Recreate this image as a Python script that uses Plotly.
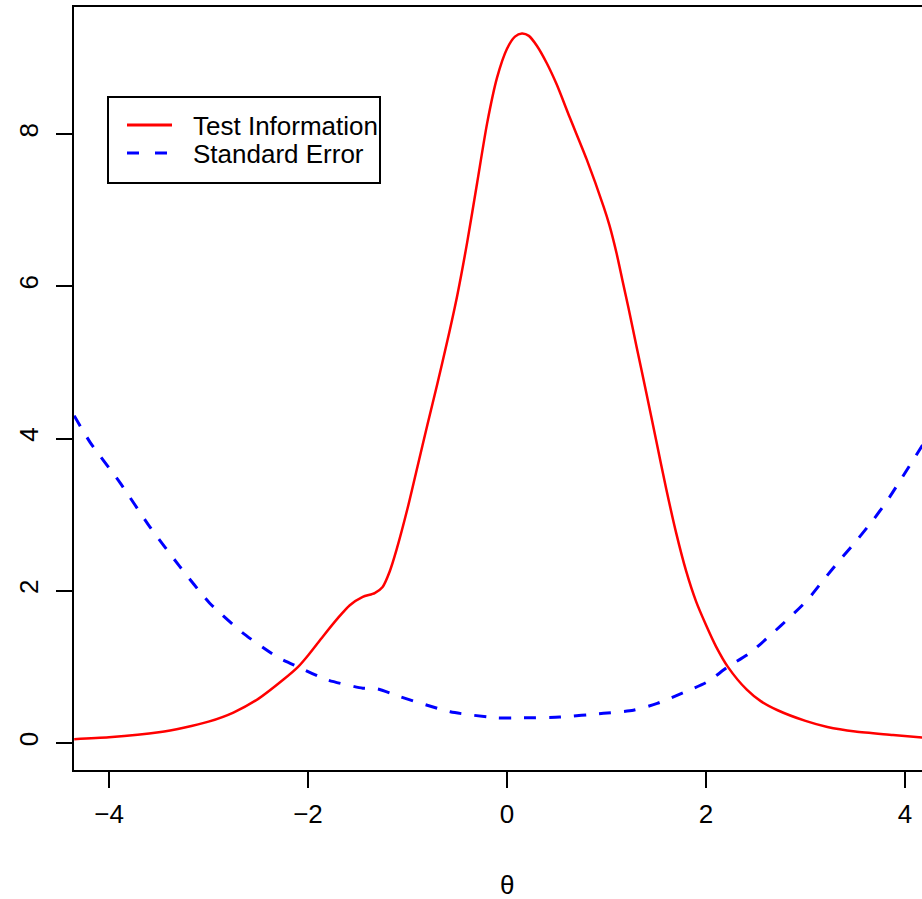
import plotly.graph_objects as go

# Test information curve (theta, information)
theta_info = [-4.35, -4.0, -3.5, -3.25, -3.0, -2.75, -2.5, -2.25, -2.1, -2.0, -1.85, -1.7,
              -1.58, -1.45, -1.33, -1.25, -1.18, -1.11, -1.0, -0.9, -0.8, -0.7, -0.6,
              -0.5, -0.4, -0.3, -0.2, -0.1, 0.0, 0.08, 0.15, 0.22, 0.30, 0.40, 0.50,
              0.63, 0.80, 0.97, 1.03, 1.10, 1.16, 1.22, 1.30, 1.40, 1.50, 1.60, 1.70,
              1.80, 1.90, 2.00, 2.10, 2.22, 2.41, 2.55, 2.72, 3.0, 3.22, 3.5, 3.88, 4.18]
info = [0.05, 0.075, 0.14, 0.20, 0.28, 0.40, 0.58, 0.83, 1.00, 1.15, 1.40, 1.64,
        1.81, 1.92, 1.97, 2.05, 2.25, 2.54, 3.08, 3.63, 4.18, 4.72, 5.28,
        5.88, 6.58, 7.36, 8.14, 8.74, 9.12, 9.28, 9.32, 9.29, 9.16, 8.93, 8.65,
        8.22, 7.67, 7.05, 6.80, 6.44, 6.08, 5.72, 5.22, 4.60, 3.97, 3.34, 2.76,
        2.26, 1.86, 1.55, 1.27, 1.00, 0.70, 0.55, 0.43, 0.29, 0.21, 0.15, 0.105, 0.07]

# Standard error curve (theta, SE)
theta_se = [-4.35, -4.19, -3.89, -3.59, -3.29, -2.99, -2.66, -2.31, -2.10, -1.81, -1.45,
            -1.30, -1.08, -0.57, -0.10, 0.15, 0.53, 0.97, 1.27, 1.51, 1.77, 2.01, 2.22,
            2.44, 2.65, 2.85, 3.02, 3.18, 3.35, 3.52, 3.68, 3.83, 4.18]
se = [4.30, 3.95, 3.42, 2.84, 2.32, 1.84, 1.45, 1.13, 1.00, 0.83, 0.72,
      0.71, 0.61, 0.41, 0.33, 0.33, 0.34, 0.39, 0.43, 0.52, 0.66, 0.80, 1.00,
      1.18, 1.42, 1.66, 1.88, 2.14, 2.41, 2.67, 2.93, 3.20, 3.92]

series_names = ["Test Information", "Standard Error"]
series_colors = ["#ff0000", "#0000ff"]
x_title = "\u03b8"

x_ticks = [-4, -2, 0, 2, 4]
x_tick_text = ["\u22124", "\u22122", "0", "2", "4"]
y_ticks = [0, 2, 4, 6, 8]

FONT = "Liberation Sans, Arial, sans-serif"
W, H = 922, 899
ML, MR, MT, MB = 74, 0, 7, 129
PW, PH = W - ML - MR, H - MT - MB


def px_x(p):
    return (p - ML) / PW


def px_y(p):
    return (H - MB - p) / PH


fig = go.Figure()
fig.add_trace(go.Scatter(x=theta_info, y=info, mode="lines", name=series_names[0],
                         showlegend=False,
                         line=dict(color=series_colors[0], width=2.5, shape="spline", smoothing=0.7)))
fig.add_trace(go.Scatter(x=theta_se, y=se, mode="lines", name=series_names[1],
                         showlegend=False,
                         line=dict(color=series_colors[1], width=3, dash="12px,13px",
                                   shape="spline", smoothing=0.6)))

# Legend drawn in R style: box, line samples, labels
shapes = [
    dict(type="rect", xref="paper", yref="paper",
         x0=px_x(108), x1=px_x(380), y0=px_y(183), y1=px_y(97),
         line=dict(color="black", width=2), fillcolor="white", layer="above"),
    dict(type="line", xref="paper", yref="paper",
         x0=px_x(127), x1=px_x(172), y0=px_y(125), y1=px_y(125),
         line=dict(color=series_colors[0], width=3), layer="above"),
    dict(type="line", xref="paper", yref="paper",
         x0=px_x(127), x1=px_x(172), y0=px_y(153), y1=px_y(153),
         line=dict(color=series_colors[1], width=3, dash="12px,16px"), layer="above"),
]
annotations = [
    dict(text=series_names[0], xref="paper", yref="paper", x=px_x(191), y=px_y(126),
         xanchor="left", yanchor="middle", showarrow=False,
         font=dict(family=FONT, size=26, color="black")),
    dict(text=series_names[1], xref="paper", yref="paper", x=px_x(191), y=px_y(154),
         xanchor="left", yanchor="middle", showarrow=False,
         font=dict(family=FONT, size=26, color="black")),
    # x-axis title (centred on the full R plot region, which extends past the crop)
    dict(text=x_title, xref="paper", yref="paper", x=px_x(507), y=px_y(885),
         xanchor="center", yanchor="middle", showarrow=False,
         font=dict(family=FONT, size=26, color="black")),
]

fig.update_layout(
    width=W, height=H,
    margin=dict(l=ML, r=MR, t=MT, b=MB, autoexpand=False),
    plot_bgcolor="white", paper_bgcolor="white",
    font=dict(family=FONT, size=26, color="black"),
    showlegend=False,
    shapes=shapes,
    annotations=annotations,
    xaxis=dict(range=[-4.352, 4.171], tickvals=x_ticks, ticktext=x_tick_text,
               showgrid=False, zeroline=False, showline=True, linecolor="black", linewidth=2,
               mirror=True, ticks="outside", ticklen=16, tickwidth=2, tickcolor="black",
               ticklabelstandoff=4, automargin=False),
    yaxis=dict(range=[-0.355, 9.669], tickvals=y_ticks, tickangle=-90,
               showgrid=False, zeroline=False, showline=True, linecolor="black", linewidth=2,
               ticks="outside", ticklen=16, tickwidth=2, tickcolor="black",
               ticklabelstandoff=8, automargin=False),
)

fig.write_html("out.html")
